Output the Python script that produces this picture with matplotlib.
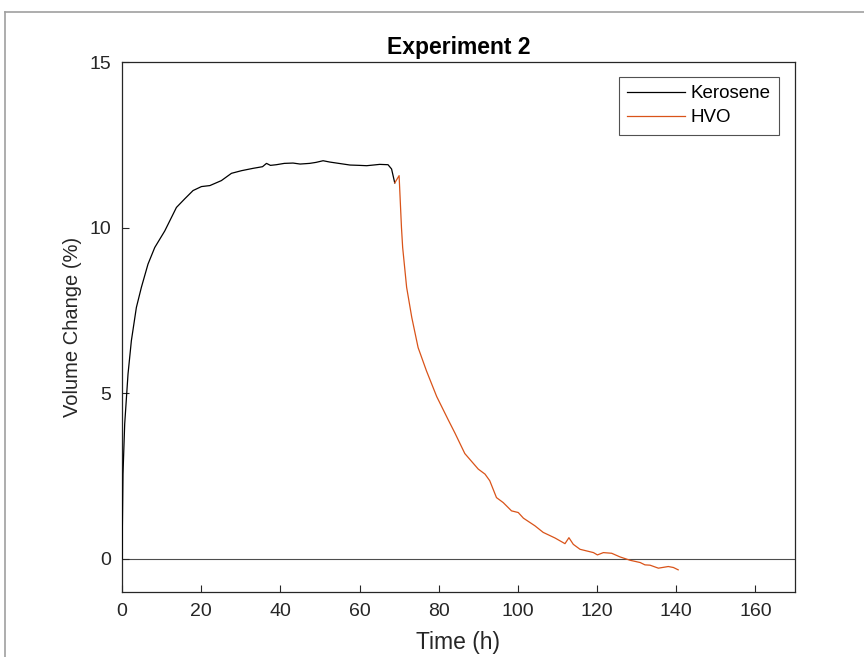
import matplotlib
matplotlib.use("Agg")
import matplotlib.pyplot as plt
from matplotlib.lines import Line2D

plt.rcParams["font.family"] = ["Liberation Sans", "DejaVu Sans"]

# Kerosene uptake phase (time in h, volume change in %)
kero_t = [0.0, 0.25, 0.68, 1.52, 2.37, 3.63, 4.9, 6.57, 8.27, 10.8, 13.75, 15.85,
          17.95, 20.07, 22.2, 25.1, 27.65, 30.2, 33.1, 35.5, 36.5, 37.5, 39.0, 41.0,
          43.2, 45.0, 47.4, 49.0, 50.8, 52.5, 54.2, 57.6, 60.0, 61.8, 63.5, 65.1,
          67.2, 68.1, 68.9]
kero_v = [0.0, 2.56, 4.07, 5.58, 6.59, 7.59, 8.2, 8.9, 9.4, 9.9, 10.61, 10.87,
          11.12, 11.24, 11.27, 11.42, 11.64, 11.72, 11.79, 11.84, 11.94, 11.88, 11.9, 11.94,
          11.95, 11.92, 11.94, 11.97, 12.02, 11.98, 11.95, 11.89, 11.88, 11.87, 11.89, 11.91,
          11.9, 11.77, 11.35]

# HVO desorption phase
hvo_t = [68.9, 70.0, 70.6, 70.9, 71.9, 73.2, 74.8, 76.9, 79.5, 82.4, 84.1, 86.6,
         90.0, 91.7, 92.9, 94.6, 96.3, 98.4, 100.1, 101.4, 104.3, 106.4, 109.4, 111.9,
         112.9, 114.0, 115.7, 119.1, 120.1, 121.6, 123.7, 125.8, 128.3, 130.9, 132.1,
         133.4, 135.5, 138.0, 139.3, 140.5]
hvo_v = [11.35, 11.57, 10.0, 9.4, 8.2, 7.29, 6.38, 5.68, 4.90, 4.20, 3.80, 3.18,
         2.71, 2.56, 2.36, 1.85, 1.70, 1.45, 1.40, 1.23, 1.0, 0.8, 0.63, 0.46,
         0.64, 0.44, 0.29, 0.19, 0.12, 0.19, 0.17, 0.06, -0.04, -0.11, -0.18,
         -0.19, -0.28, -0.23, -0.26, -0.33]

x_ticks = [0, 20, 40, 60, 80, 100, 120, 140, 160]
y_ticks = [0, 5, 10, 15]

fig = plt.figure(figsize=(8.64, 6.57), dpi=100)
fig.patch.set_facecolor("white")
ax = fig.add_axes([0.1412, 0.0989, 0.7789, 0.8067])

ax.axhline(0, color="0.3", lw=0.8, zorder=1)
ax.plot(kero_t, kero_v, color="black", lw=0.9, label="Kerosene", zorder=3)
ax.plot(hvo_t, hvo_v, color="#D95319", lw=0.9, label="HVO", zorder=3)

ax.set_xlim(0, 170)
ax.set_ylim(-1, 15)
ax.set_xticks(x_ticks)
ax.set_yticks(y_ticks)
ax.tick_params(direction="in", length=5, width=0.8, labelsize=14, pad=8,
               colors="#262626", top=False, right=False)
for s in ax.spines.values():
    s.set_linewidth(0.9)
    s.set_color("#262626")

ax.set_xlabel("Time (h)", fontsize=16.5, color="#262626", labelpad=8)
ax.set_ylabel("Volume Change (%)", fontsize=14.5, color="#262626", labelpad=5)
ax.set_title("Experiment 2", fontsize=16.5, fontweight="bold", pad=6)

leg = ax.legend(loc="upper right", fontsize=13.5, handlelength=3.1, handletextpad=0.3,
                labelspacing=0.38, borderpad=0.44, borderaxespad=0, fancybox=False,
                bbox_to_anchor=(0.976, 0.972))
leg.get_frame().set_edgecolor("#262626")
leg.get_frame().set_linewidth(0.8)

# window border remnants (left and top edges)
fig.add_artist(Line2D([5 / 864, 5 / 864], [0, 1 - 12 / 657], transform=fig.transFigure,
                      color="#a0a0a0", lw=1.2))
fig.add_artist(Line2D([5 / 864, 1], [1 - 12 / 657, 1 - 12 / 657], transform=fig.transFigure,
                      color="#a0a0a0", lw=1.2))

fig.savefig("out.png", dpi=100)
